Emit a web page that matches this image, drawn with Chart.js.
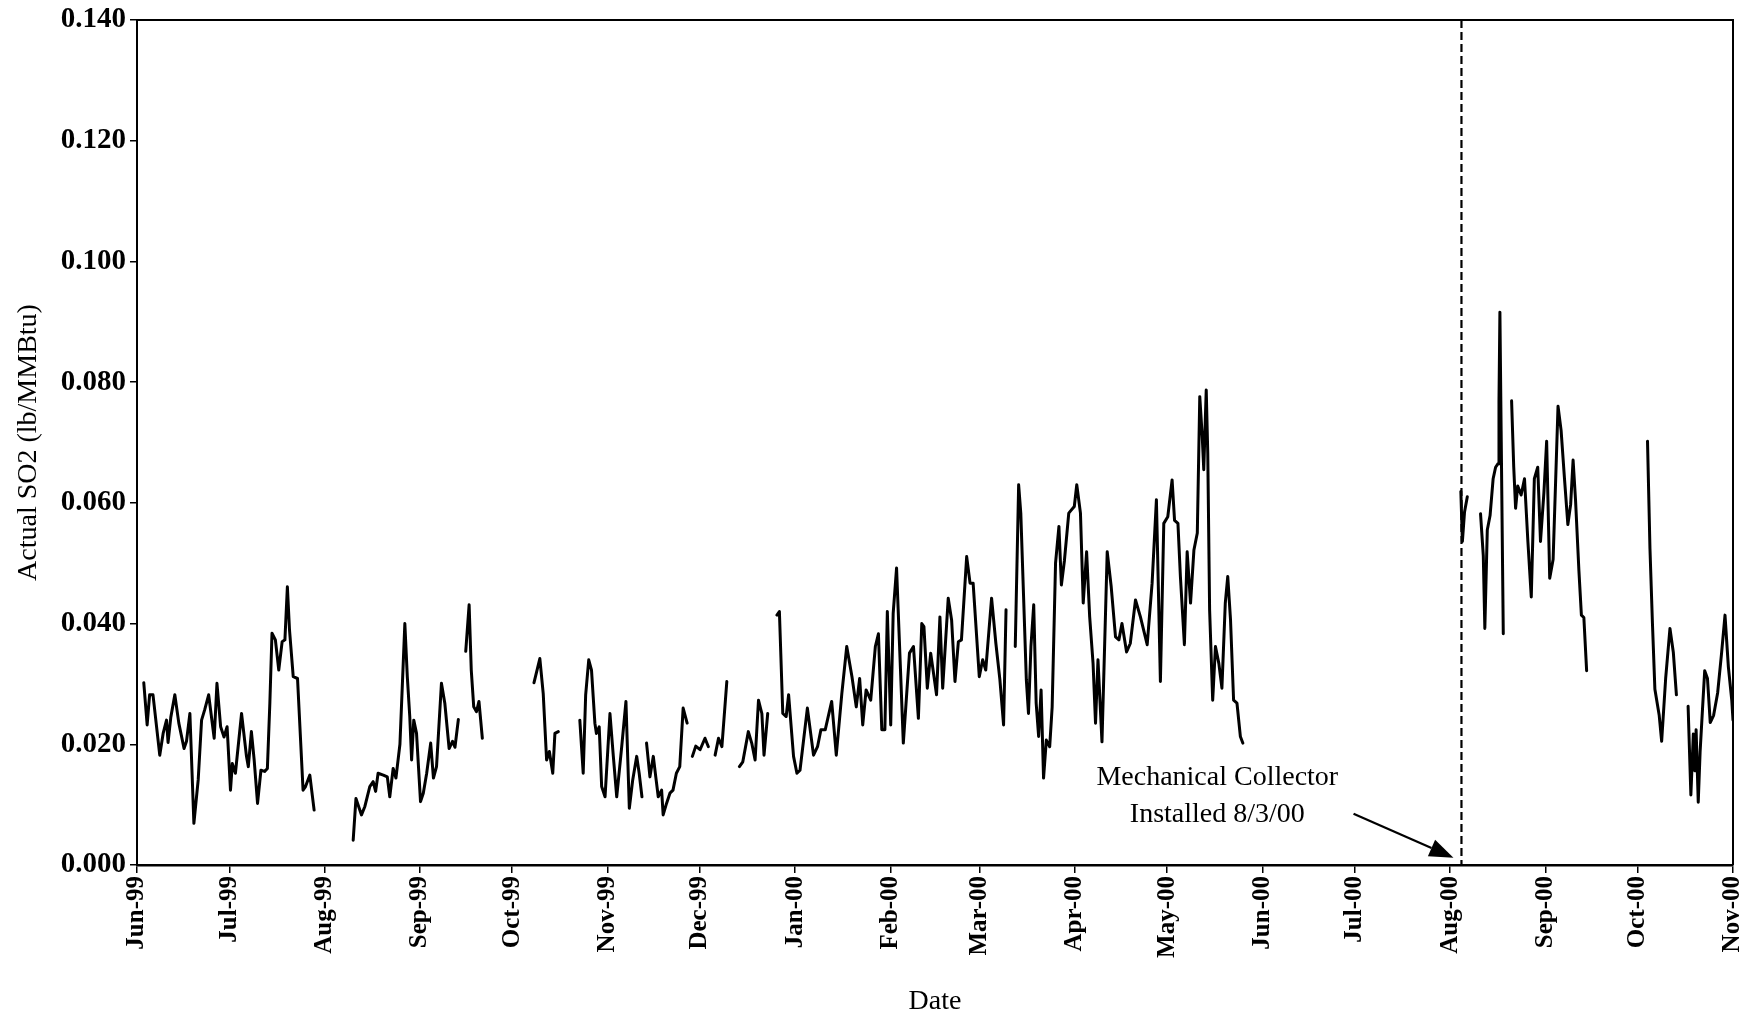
<!DOCTYPE html>
<html>
<head>
<meta charset="utf-8">
<script src="https://cdn.jsdelivr.net/npm/chart.js@4.4.1/dist/chart.umd.min.js"></script>
<style>
  html, body { margin: 0; padding: 0; background: #ffffff; }
  #wrap { width: 1750px; height: 1019px; }
</style>
</head>
<body>
<div id="wrap"><canvas id="chart" width="1750" height="1019"></canvas></div>
<script>
// ---- tick labels (month starts) ----
const monthLabels = ['Jun-99','Jul-99','Aug-99','Sep-99','Oct-99','Nov-99','Dec-99','Jan-00','Feb-00',
                     'Mar-00','Apr-00','May-00','Jun-00','Jul-00','Aug-00','Sep-00','Oct-00','Nov-00'];
const monthStarts = ['1999-06-01','1999-07-01','1999-08-01','1999-09-01','1999-10-01','1999-11-01','1999-12-01',
                     '2000-01-01','2000-02-01','2000-03-01','2000-04-01','2000-05-01','2000-06-01','2000-07-01',
                     '2000-08-01','2000-09-01','2000-10-01','2000-11-01'];
const yTickValues = [0, 0.02, 0.04, 0.06, 0.08, 0.10, 0.12, 0.14];

// ---- series: days since 1 Jun 1999 (null = gap in record) ----
const dayIndex = [
  2.2,3.3,4.1,5.2,7.4,8.5,9.6,10.1,11.0,12.3,13.6,15.3,16.1,17.2,18.5,19.9,21.0,22.0,23.3,25.1,26.0,27.2,28.3,29.3,
  30.4,31.0,32.0,34.0,35.6,36.2,37.2,38.1,39.2,40.3,41.5,42.4,43.2,43.9,45.0,46.1,47.2,48.1,48.9,49.6,50.8,52.2,
  54.0,54.8,56.2,57.6,null,
  70.3,71.2,73.0,74.1,75.7,76.8,77.6,78.4,80.1,81.4,82.2,83.3,84.2,85.5,87.1,87.9,88.7,89.3,90.0,90.9,92.2,93.1,
  94.2,95.5,96.4,97.4,99.0,100.1,101.5,102.6,103.4,104.5,null,
  106.9,108.0,108.7,109.5,110.4,111.2,112.3,null,
  129.1,131.0,132.1,133.2,134.1,135.2,135.9,137.0,null,
  144.0,145.1,145.9,146.9,147.8,148.9,149.4,150.3,151.1,152.2,153.8,154.9,156.0,157.6,159.0,160.1,161.2,162.5,
  163.3,164.2,null,
  165.7,166.8,167.9,168.7,169.5,170.6,171.1,172.2,173.3,174.3,175.4,176.5,177.6,178.9,null,
  180.6,181.7,183.1,184.7,185.8,null,
  188.0,189.1,190.2,191.8,null,
  195.9,197.0,198.8,199.9,201.0,202.1,203.2,203.9,205.1,null,
  208.1,208.9,210.0,211.1,211.9,213.5,214.6,215.6,218.0,220.0,221.3,222.4,223.8,225.9,227.4,229.2,230.8,232.5,
  233.9,235.0,236.0,237.1,238.6,240.1,241.1,242.2,243.2,244.0,245.1,245.9,247.0,247.9,249.2,251.2,252.5,254.1,
  255.2,255.9,257.0,258.1,260.0,261.1,262.0,263.8,264.9,266.0,267.1,268.1,269.8,270.9,271.9,273.9,275.0,276.0,
  277.9,279.3,280.6,281.8,282.6,null,
  285.6,286.7,287.4,288.3,289.2,289.9,290.7,291.6,292.4,293.2,294.0,294.8,295.7,296.8,297.6,298.7,299.8,300.6,
  301.6,303.0,303.8,304.8,305.6,306.8,307.7,308.8,309.8,310.9,311.7,312.5,313.8,315.5,316.8,318.2,319.3,320.3,
  321.8,323.0,324.7,326.3,328.5,330.1,331.5,332.8,333.9,335.2,336.6,337.4,338.5,339.3,340.6,341.5,342.6,343.7,
  344.8,345.6,346.4,346.9,347.7,348.2,348.8,349.8,350.7,351.8,352.8,353.9,354.7,355.6,356.6,357.7,358.8,359.6,null,
  430.5,431.0,431.7,432.6,null,
  436.9,437.8,438.3,439.1,440.0,441.0,441.8,442.6,442.9,443.2,443.6,444.3,null,
  447.0,447.7,448.3,449.0,450.1,451.2,452.3,453.4,454.4,455.5,456.4,457.5,458.4,459.4,460.5,462.1,463.1,464.2,
  465.3,466.2,467.0,467.8,468.9,469.7,470.5,471.4,null,
  491.2,492.0,492.8,493.6,495.0,495.8,497.1,498.5,499.6,500.6,null,
  504.4,505.3,506.1,506.6,507.0,507.7,508.3,509.1,509.8,510.7,511.6,512.7,514.0,515.3,516.4,517.5,518.6,519.0
];
const so2 = [
  .0302,.0232,.0282,.0282,.0182,.0218,.0240,.0203,.0245,.0282,.0235,.0193,.0205,.0251,.0069,.0141,.0240,.0257,.0282,.0210,.0301,.0229,.0212,.0229,
  .0124,.0168,.0152,.0251,.0180,.0163,.0221,.0174,.0102,.0157,.0155,.0160,.0268,.0384,.0373,.0323,.0370,.0373,.0461,.0389,.0312,.0309,
  .0124,.0130,.0149,.0091,null,
  .0041,.0110,.0083,.0097,.0130,.0138,.0122,.0152,.0149,.0146,.0113,.0160,.0144,.0200,.0400,.0312,.0246,.0174,.0240,.0218,.0105,.0119,
  .0152,.0202,.0144,.0163,.0301,.0268,.0193,.0205,.0195,.0241,null,
  .0354,.0431,.0323,.0262,.0254,.0271,.0210,null,
  .0302,.0342,.0284,.0174,.0188,.0152,.0218,.0221,null,
  .0240,.0152,.0282,.0340,.0323,.0235,.0218,.0229,.0130,.0113,.0251,.0180,.0113,.0195,.0271,.0094,.0141,.0180,
  .0152,.0113,null,
  .0202,.0146,.0180,.0146,.0113,.0124,.0083,.0102,.0119,.0124,.0152,.0163,.0260,.0235,null,
  .0180,.0197,.0191,.0210,.0196,null,
  .0182,.0210,.0196,.0304,null,
  .0163,.0171,.0221,.0202,.0174,.0273,.0251,.0182,.0251,null,
  .0414,.0420,.0251,.0246,.0282,.0180,.0152,.0157,.0260,.0182,.0196,.0224,.0224,.0271,.0182,.0284,.0362,.0312,
  .0262,.0309,.0232,.0290,.0273,.0362,.0383,.0224,.0224,.0420,.0232,.0417,.0492,.0373,.0202,.0351,.0362,.0243,
  .0400,.0395,.0293,.0351,.0282,.0411,.0293,.0442,.0406,.0304,.0370,.0373,.0511,.0467,.0467,.0312,.0340,.0323,
  .0442,.0367,.0307,.0232,.0423,null,
  .0362,.0630,.0583,.0445,.0307,.0251,.0362,.0431,.0268,.0213,.0290,.0144,.0207,.0196,.0262,.0500,.0561,.0464,
  .0505,.0583,.0588,.0594,.0630,.0583,.0434,.0519,.0411,.0334,.0235,.0340,.0204,.0519,.0461,.0378,.0373,.0400,
  .0353,.0367,.0439,.0411,.0365,.0467,.0605,.0304,.0566,.0577,.0638,.0571,.0566,.0478,.0365,.0519,.0434,.0522,
  .0550,.0776,.0710,.0655,.0787,.0682,.0423,.0273,.0362,.0334,.0293,.0434,.0478,.0406,.0273,.0268,.0213,.0202,null,
  .0619,.0536,.0585,.0610,null,
  .0582,.0512,.0392,.0555,.0579,.0640,.0659,.0665,.0769,.0916,.0720,.0383,null,
  .0769,.0659,.0591,.0628,.0613,.0640,.0536,.0444,.0640,.0659,.0536,.0616,.0702,.0475,.0506,.0760,.0720,.0640,
  .0564,.0597,.0671,.0604,.0487,.0414,.0410,.0322,null,
  .0702,.0524,.0401,.0291,.0248,.0205,.0309,.0392,.0352,.0282,null,
  .0263,.0116,.0217,.0156,.0224,.0104,.0187,.0260,.0322,.0309,.0236,.0248,.0285,.0352,.0414,.0328,.0273,.0240
];

// ---- annotation ----
const collectorDay = 430.7;                 // dashed line position
const noteLines = ['Mechanical Collector', 'Installed 8/3/00'];
const noteDay = 351.3;
const noteValues = [0.0144, 0.0083];
const arrowFrom = {day: 395.6, value: 0.0085};
const arrowTo = {day: 428.1, value: 0.0012};

const base = Date.UTC(1999, 5, 1);
function dayOf(s) { const p = s.split('-').map(Number); return (Date.UTC(p[0], p[1] - 1, p[2]) - base) / 86400000; }

const points = [];
let lastX = 0;
for (let i = 0; i < so2.length; i++) {
  if (so2[i] === null || dayIndex[i] === null) { points.push({x: lastX + 0.5, y: null}); }
  else { points.push({x: dayIndex[i], y: so2[i]}); lastX = dayIndex[i]; }
}

const SERIF = '"Liberation Serif", "Times New Roman", serif';

const decor = {
  id: 'decor',
  afterDatasetsDraw(chart) {
    const {ctx, chartArea: a, scales: {x, y}} = chart;
    ctx.save();
    ctx.strokeStyle = '#000';
    ctx.lineWidth = 2;
    ctx.beginPath();
    ctx.moveTo(a.left, a.top);
    ctx.lineTo(a.right, a.top);
    ctx.lineTo(a.right, a.bottom);
    ctx.stroke();

    const xd = x.getPixelForValue(collectorDay);
    ctx.setLineDash([8, 4]);
    ctx.lineWidth = 2.2;
    ctx.beginPath();
    ctx.moveTo(xd, a.top);
    ctx.lineTo(xd, a.bottom);
    ctx.stroke();
    ctx.setLineDash([]);

    ctx.fillStyle = '#000';
    ctx.font = '28px ' + SERIF;
    ctx.textAlign = 'center';
    ctx.textBaseline = 'middle';
    noteLines.forEach((t, i) => ctx.fillText(t, x.getPixelForValue(noteDay), y.getPixelForValue(noteValues[i])));

    const x1 = x.getPixelForValue(arrowFrom.day), y1 = y.getPixelForValue(arrowFrom.value);
    const x2 = x.getPixelForValue(arrowTo.day), y2 = y.getPixelForValue(arrowTo.value);
    const ang = Math.atan2(y2 - y1, x2 - x1);
    const hl = 24, hw = 9;
    const bx = x2 - hl * Math.cos(ang), by = y2 - hl * Math.sin(ang);
    ctx.lineWidth = 2.2;
    ctx.beginPath();
    ctx.moveTo(x1, y1);
    ctx.lineTo(bx, by);
    ctx.stroke();
    ctx.beginPath();
    ctx.moveTo(x2, y2);
    ctx.lineTo(bx + hw * Math.sin(ang), by - hw * Math.cos(ang));
    ctx.lineTo(bx - hw * Math.sin(ang), by + hw * Math.cos(ang));
    ctx.closePath();
    ctx.fill();
    ctx.restore();
  }
};

new Chart(document.getElementById('chart'), {
  type: 'line',
  data: {
    datasets: [{
      data: points,
      borderColor: '#000',
      borderWidth: 3,
      pointRadius: 0,
      tension: 0,
      spanGaps: false,
      borderJoinStyle: 'round',
      borderCapStyle: 'round'
    }]
  },
  options: {
    responsive: false,
    animation: false,
    devicePixelRatio: 1,
    layout: {padding: {top: 20, right: 17, left: 0, bottom: 0}},
    plugins: {legend: {display: false}, tooltip: {enabled: false}},
    scales: {
      x: {
        type: 'linear',
        min: 0,
        max: dayOf(monthStarts[monthStarts.length - 1]),
        afterBuildTicks: s => { s.ticks = monthStarts.map(d => ({value: dayOf(d)})); },
        afterFit: s => { s.height = 154; s.paddingLeft = 0; s.paddingRight = 0; },
        ticks: {
          autoSkip: false, maxRotation: 90, minRotation: 90, padding: 3,
          color: '#000', font: {family: SERIF, size: 25, weight: 'bold'},
          callback: (v, i) => monthLabels[i]
        },
        grid: {drawOnChartArea: false, drawTicks: true, tickLength: 8, color: '#000', lineWidth: 1.5},
        border: {display: true, color: '#000', width: 2.5},
        title: {display: true, text: 'Date', color: '#000', font: {family: SERIF, size: 28}, padding: {top: 0, bottom: 1}}
      },
      y: {
        min: 0,
        max: 0.14,
        afterBuildTicks: s => { s.ticks = yTickValues.map(v => ({value: v})); },
        afterFit: s => { s.width = 137; s.paddingTop = 0; s.paddingBottom = 0; },
        ticks: {
          padding: 4, color: '#000', font: {family: SERIF, size: 29, weight: 'bold'},
          callback: v => Number(v).toFixed(3)
        },
        grid: {drawOnChartArea: false, drawTicks: true, tickLength: 7, color: '#000', lineWidth: 1.5},
        border: {display: true, color: '#000', width: 2},
        title: {display: true, text: 'Actual SO2 (lb/MMBtu)', color: '#000', font: {family: SERIF, size: 28}, padding: {top: 12, bottom: 0}}
      }
    }
  },
  plugins: [decor]
});
</script>
</body>
</html>
